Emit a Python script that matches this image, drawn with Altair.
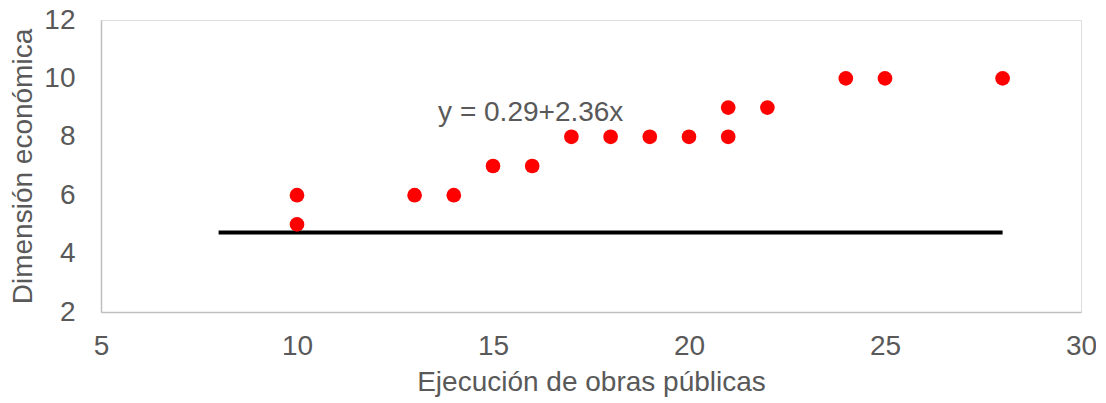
import altair as alt
import pandas as pd

x_vals = [10, 10, 13, 14, 15, 16, 17, 18, 19, 20, 21, 21, 22, 24, 25, 28]
y_vals = [6, 5, 6, 6, 7, 7, 8, 8, 8, 8, 9, 8, 9, 10, 10, 10]

line_x = [8, 28]
line_y = [4.72, 4.72]

label_text = ["y = 0.29+2.36x"]
label_x = [13.6]
label_y = [8.8]

pts = pd.DataFrame({"x": x_vals, "y": y_vals})
ln = pd.DataFrame({"x": line_x, "y": line_y})
lab = pd.DataFrame({"x": label_x, "y": label_y, "t": label_text})

FONT = "Liberation Sans"
GRAY = "#595959"
FS = 28

xs = alt.Scale(domain=[5, 30], nice=False, zero=False)
ys = alt.Scale(domain=[2, 12], nice=False, zero=False)

xaxis = alt.Axis(values=[5, 10, 15, 20, 25, 30], grid=False, ticks=False, tickSize=0,
                 labelFlush=False, labelOverlap=False,
                 domainColor="#BFBFBF", domainWidth=1.5, labelFontSize=FS, labelColor=GRAY,
                 labelFont=FONT, labelPadding=20, titleFont=FONT, titleFontSize=FS,
                 titleColor=GRAY, titleFontWeight="normal", titlePadding=8)
yaxis = alt.Axis(values=[2, 4, 6, 8, 10, 12], grid=False, ticks=False, tickSize=0,
                 labelFlush=False, labelOverlap=False,
                 domainColor="#BFBFBF", domainWidth=1.5, labelFontSize=FS, labelColor=GRAY,
                 labelFont=FONT, labelPadding=26, titleFont=FONT, titleFontSize=FS,
                 titleColor=GRAY, titleFontWeight="normal", titlePadding=6)

points = alt.Chart(pts).mark_circle(color="#FF0000", opacity=1, size=215).encode(
    x=alt.X("x:Q", scale=xs, axis=xaxis, title="Ejecución de obras públicas"),
    y=alt.Y("y:Q", scale=ys, axis=yaxis, title="Dimensión económica"),
)

line = alt.Chart(ln).mark_line(color="#000000", strokeWidth=4).encode(
    x=alt.X("x:Q", scale=xs), y=alt.Y("y:Q", scale=ys)
)

text = alt.Chart(lab).mark_text(align="left", baseline="middle", font=FONT, fontSize=FS,
                                color=GRAY).encode(
    x=alt.X("x:Q", scale=xs), y=alt.Y("y:Q", scale=ys), text="t:N"
)

chart = alt.layer(line, points, text).properties(
    width=980, height=292,
    autosize=alt.AutoSizeParams(type="none"),
    padding={"left": 93, "top": 12, "right": 15, "bottom": 91},
).configure_view(stroke=None).configure(background="white")

chart.save("out.html", embed_options={"renderer": "svg", "actions": False})
